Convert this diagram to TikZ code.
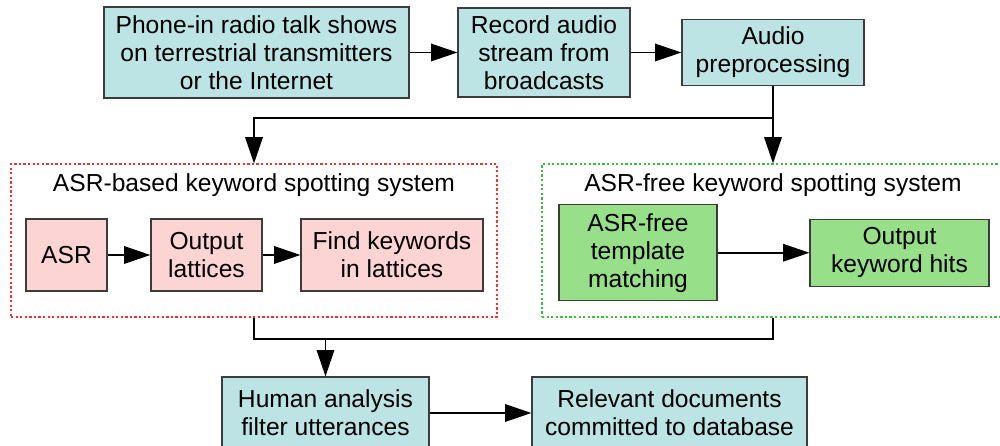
\documentclass[tikz,border=0pt]{standalone}
\usepackage{fontspec}
\setmainfont{Liberation Sans}
\usetikzlibrary{arrows.meta}
\definecolor{boxcyan}{RGB}{188,228,229}
\definecolor{boxpink}{RGB}{252,212,211}
\definecolor{boxgreen}{RGB}{151,223,137}
\definecolor{boxline}{RGB}{60,60,60}
\definecolor{redframe}{RGB}{240,50,50}
\definecolor{greenframe}{RGB}{60,190,60}
\tikzset{
every picture/.style={line width=0.9pt, >={Triangle[length=15pt,width=10pt]}},
%%%%%%%%%%  Node styles
block/.style={draw=boxline, line width=0.7pt, align=center, inner sep=1pt,
              font=\fontsize{14}{15.9}\selectfont},
source/.style={block, fill=boxcyan},
asrstep/.style={block, fill=boxpink},
freestep/.style={block, fill=boxgreen},
title/.style={font=\fontsize{14}{15.9}\selectfont},
%%%% dotted frames
redsystem/.style={draw=redframe, line width=0.6pt, dash pattern=on 1.3pt off 1.3pt},
greensystem/.style={draw=greenframe, line width=0.6pt, dash pattern=on 1.3pt off 1.3pt}
}
\begin{document}
\begin{tikzpicture}
\useasboundingbox (0,0) rectangle (20,8.92);
%%%%%%% top row
\node[source, minimum width=6.1cm, minimum height=1.82cm] (shows) at (5.13,7.87)
      {Phone-in radio talk shows\\on terrestrial transmitters\\or the Internet};
\node[source, minimum width=3.44cm, minimum height=1.78cm] (record) at (10.88,7.87)
      {Record audio\\stream from\\broadcasts};
\node[source, minimum width=3.64cm, minimum height=1.32cm] (prep) at (15.46,7.87)
      {Audio\\preprocessing};
%%%%%%% the two systems
\node[redsystem, minimum width=9.72cm, minimum height=3.06cm] (asrsys) at (5.08,4.11) {};
\node[greensystem, minimum width=9.24cm, minimum height=3.06cm] (freesys) at (15.46,4.11) {};
\node[title] (asrtitle) at (5.08,5.22) {ASR-based keyword spotting system};
\node[title] (freetitle) at (15.46,5.22) {ASR-free keyword spotting system};
\node[asrstep, minimum width=1.62cm, minimum height=1.44cm] (asr) at (1.33,3.82) {ASR};
\node[asrstep, minimum width=2.22cm, minimum height=1.44cm] (lattices) at (4.13,3.82)
      {Output\\lattices};
\node[asrstep, minimum width=3.64cm, minimum height=1.44cm] (find) at (7.84,3.82)
      {Find keywords\\in lattices};
\node[freestep, minimum width=3.16cm, minimum height=1.92cm] (template) at (12.76,3.865)
      {ASR-free\\template\\matching};
\node[freestep, minimum width=3.58cm, minimum height=1.34cm] (hits) at (17.99,3.865)
      {Output\\keyword hits};
%%%%%%% bottom row
\node[source, minimum width=4.14cm, minimum height=1.44cm] (human) at (6.51,0.66)
      {Human analysis\\filter utterances};
\node[source, minimum width=5.5cm, minimum height=1.44cm] (relevant) at (13.39,0.66)
      {Relevant documents\\committed to database};
\coordinate (fork) at (15.46,6.56);
\coordinate (join) at (6.51,2.14);
%%%%%%% connectors
\draw[->] (shows) -- (record);
\draw[->] (record) -- (prep);
\draw (prep) -- (fork);
\draw[->] (fork) -| (asrsys.north);
\draw[->] (fork) -- (freesys.north);
\draw[->] (asr) -- (lattices);
\draw[->] (lattices) -- (find);
\draw[->] (template) -- (hits);
\draw (asrsys.south) |- (join) -| (freesys.south);
\draw[->] (join) -- (human);
\draw[->] (human) -- (relevant);
\end{tikzpicture}
\end{document}
